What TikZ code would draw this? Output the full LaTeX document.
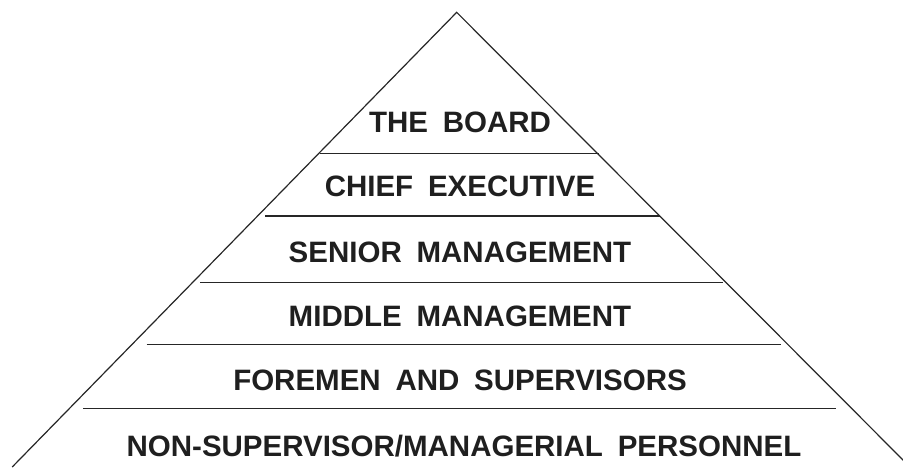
\documentclass[tikz,border=0pt]{standalone}
\usepackage{fontspec}
\setmainfont{Liberation Sans}[WordSpace=1.8]
\begin{document}
\begin{tikzpicture}[x=1pt,y=-1pt,
  side/.style={line width=1.2pt,black!85},
  tier/.style={line width=1.6pt,black!85},
  level/.style={anchor=base,inner sep=0pt,font=\fontsize{29.5}{32}\selectfont\bfseries,text=black!88}]
\useasboundingbox (0,0) rectangle (903,467);
% outline of the pyramid
\coordinate (apex) at (456.7,12.3);
\coordinate (baseL) at (12.2,467);
\coordinate (baseR) at (910,467);
\draw[side] (baseL) -- (apex) -- (baseR);
% dividing lines between the levels
\draw[tier] (320,153.3) -- (599,153.3);
\draw[tier] (265,216) -- (660,216);
\draw[tier] (200,282.3) -- (723,282.3);
\draw[tier] (146.7,344.3) -- (781,344.3);
\draw[tier] (83,408.3) -- (836,408.3);
% level names
\node[level] (board) at (460,132.5) {THE BOARD};
\node[level] (chief) at (460,196) {CHIEF EXECUTIVE};
\node[level] (senior) at (460,262.5) {SENIOR MANAGEMENT};
\node[level] (middle) at (460,326.5) {MIDDLE MANAGEMENT};
\node[level] (foremen) at (460,390.5) {FOREMEN AND SUPERVISORS};
\node[level] (staff) at (464,456) {NON-SUPERVISOR/MANAGERIAL PERSONNEL};
\end{tikzpicture}
\end{document}
